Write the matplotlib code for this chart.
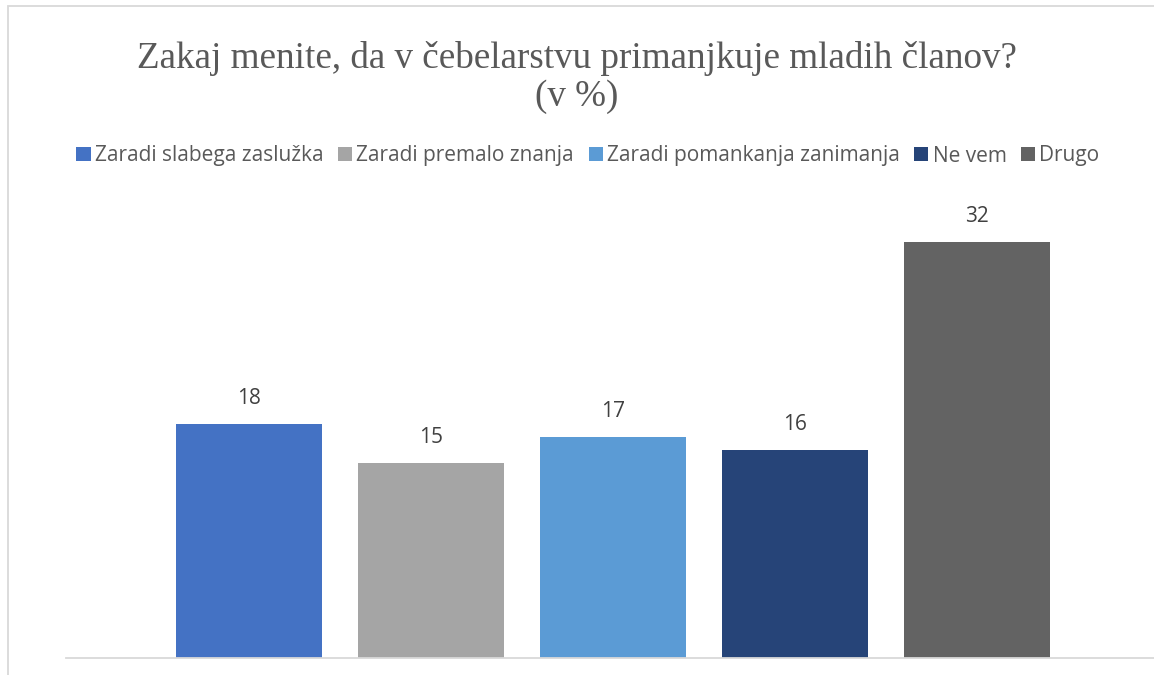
import matplotlib
matplotlib.use("Agg")
import matplotlib.pyplot as plt
from matplotlib.patches import Patch, Rectangle

# data
categories = ["Zaradi slabega zaslužka", "Zaradi premalo znanja",
              "Zaradi pomankanja zanimanja", "Ne vem", "Drugo"]
values = [18, 15, 17, 16, 32]
colors = ["#4472C4", "#A5A5A5", "#5B9BD5", "#264478", "#636363"]

W, H = 1154, 675
fig = plt.figure(figsize=(W / 100, H / 100), dpi=100)

# plot area in pixels: left 66, bottom 658, 13 px per unit
ymax = 35
top_px = 658 - ymax * 13
ax = fig.add_axes([66 / W, (H - 658) / H, 1 - 66 / W, (658 - top_px) / H])

x = range(len(values))
bars = ax.bar(x, values, width=0.8, color=colors, zorder=2)
ax.set_xlim(-1.005, 4.973)
ax.set_ylim(0, ymax)

for b, v in zip(bars, values):
    ax.annotate(str(v), (b.get_x() + b.get_width() / 2, v),
                xytext=(0, 18.5), textcoords="offset points",
                ha="center", va="center", fontsize=15,
                color="#404040", family="Open Sans")

for s in ["top", "right", "left"]:
    ax.spines[s].set_visible(False)
ax.spines["bottom"].set_color("#D9D9D9")
ax.spines["bottom"].set_linewidth(1.3)
ax.set_xticks([])
ax.set_yticks([])

# title
fig.text(577 / W, 1 - 59 / H, "Zakaj menite, da v čebelarstvu primanjkuje mladih članov?",
         ha="center", va="center", fontsize=26.7, color="#595959",
         family="Liberation Serif")
fig.text(577 / W, 1 - 97 / H, "(v %)", ha="center", va="center", fontsize=26.7,
         color="#595959", family="Liberation Serif")

# legend
handles = [Patch(facecolor=c, edgecolor="none") for c in colors]
leg = fig.legend(handles, categories, loc="center", ncol=5,
                 bbox_to_anchor=(588 / W, 1 - 156 / H), frameon=False,
                 prop={"family": "Open Sans", "size": 15},
                 handlelength=0.68, handleheight=0.68, handletextpad=0.2,
                 columnspacing=0.7, labelcolor="#595959")

# chart border (cut off at right and bottom)
fig.add_artist(Rectangle((7.5 / W, -0.1), 1.2, 1 - 5.5 / H + 0.1,
                         transform=fig.transFigure, fill=False,
                         edgecolor="#D9D9D9", linewidth=1.3))

fig.savefig("out.png", dpi=100)
